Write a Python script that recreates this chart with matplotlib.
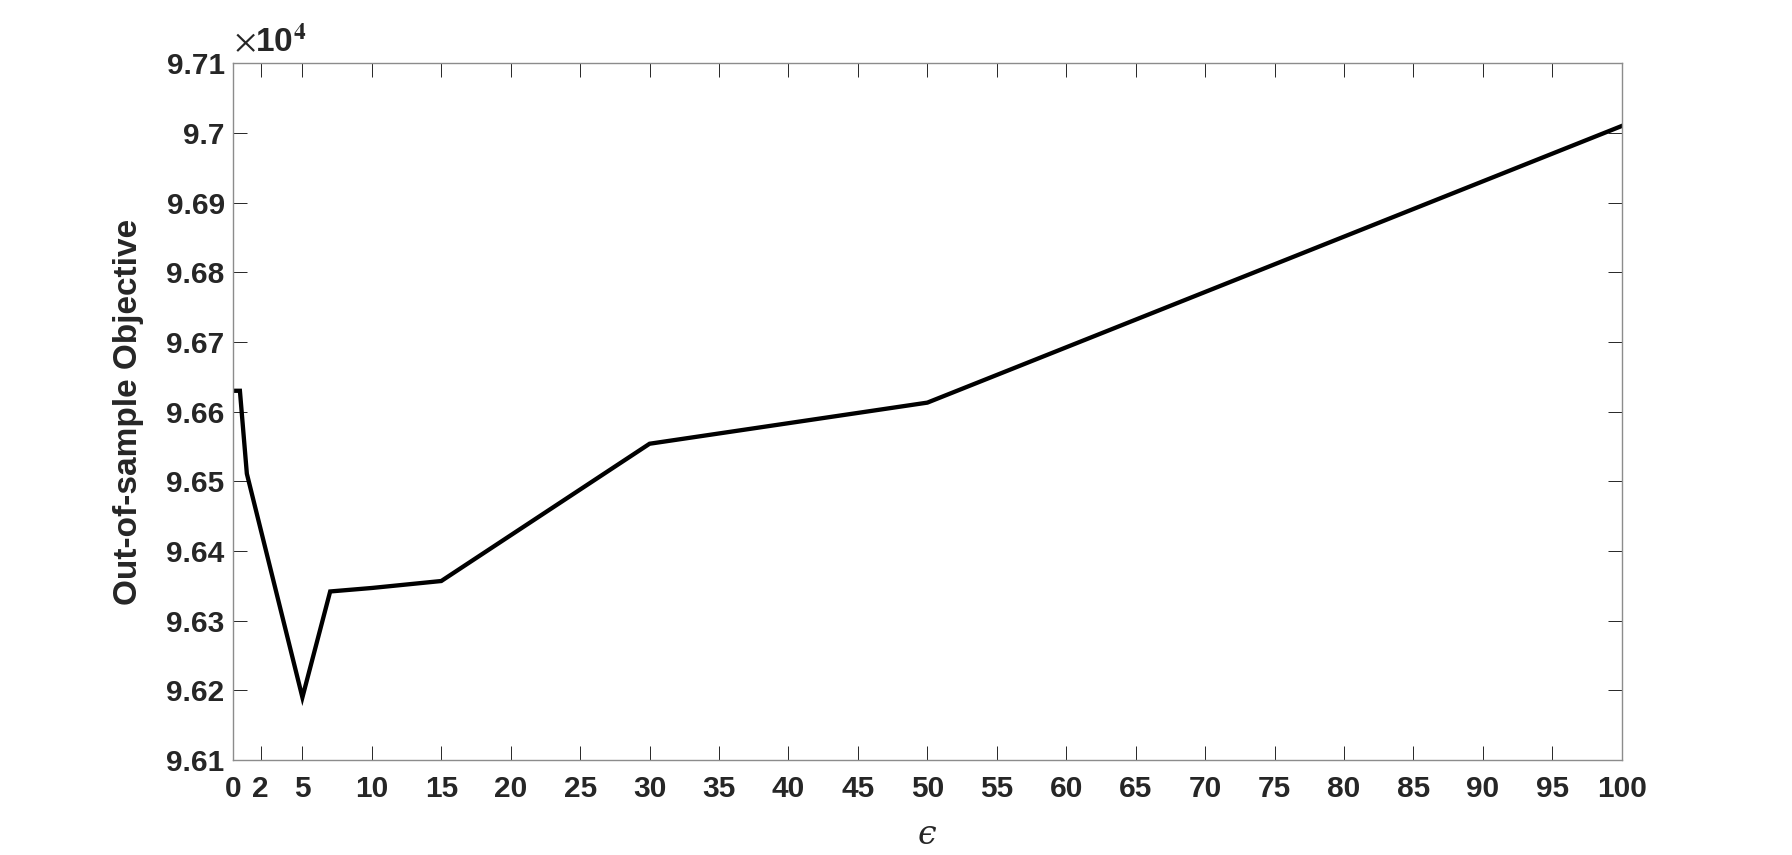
import numpy as np
import matplotlib
matplotlib.use("Agg")
import matplotlib.pyplot as plt

# epsilon values and out-of-sample objective (raw units)
eps = [0.1, 0.5, 1, 5, 7, 10, 15, 30, 50, 100]
obj = [96630, 96630, 96511, 96190, 96342, 96347, 96357, 96554, 96613, 97010]
xticks = [0, 2, 5, 10, 15, 20, 25, 30, 35, 40, 45, 50, 55, 60, 65, 70, 75, 80, 85, 90, 95, 100]
yticks = [9.61, 9.62, 9.63, 9.64, 9.65, 9.66, 9.67, 9.68, 9.69, 9.70, 9.71]
ylabels = ["9.61", "9.62", "9.63", "9.64", "9.65", "9.66", "9.67", "9.68", "9.69", "9.7", "9.71"]

plt.rcParams['font.family'] = ['Liberation Sans', 'DejaVu Sans']
plt.rcParams['mathtext.fontset'] = 'stix'

fig = plt.figure(figsize=(17.92, 8.55), dpi=100)
ax = fig.add_axes([0.13, 0.111, 0.775, 0.815])

ax.plot(eps, np.array(obj) / 1e4, color='black', linewidth=3.1, solid_joinstyle='miter')

ax.set_xlim(0, 100)
ax.set_ylim(9.61, 9.71)
ax.set_xticks(xticks)
ax.set_yticks(yticks)
ax.set_yticklabels(ylabels)

tc = '#262626'
ax.tick_params(direction='in', length=10, width=0.7, color=tc, top=True, right=True,
               labelsize=21.5, labelcolor=tc)
ax.tick_params(axis='x', pad=11)
ax.tick_params(axis='y', pad=6)
for lab in ax.get_xticklabels() + ax.get_yticklabels():
    lab.set_fontweight('bold')
for s in ax.spines.values():
    s.set_color('#8c8c8c')
    s.set_linewidth(1.0)

ax.set_ylabel('Out-of-sample Objective', fontsize=24, fontweight='bold', color=tc)
ax.yaxis.set_label_coords(-0.064, 0.5)
ax.set_xlabel('\u03f5', fontsize=24, color=tc, family=['DejaVu Serif'], style='italic')
ax.xaxis.set_label_coords(0.5, -0.085)

ax.text(0.001, 1.008, r'$\times$10$^{\mathbf{4}}$', transform=ax.transAxes, fontsize=24,
        fontweight='bold', color=tc, ha='left', va='bottom')

fig.savefig('out.png', dpi=100)
